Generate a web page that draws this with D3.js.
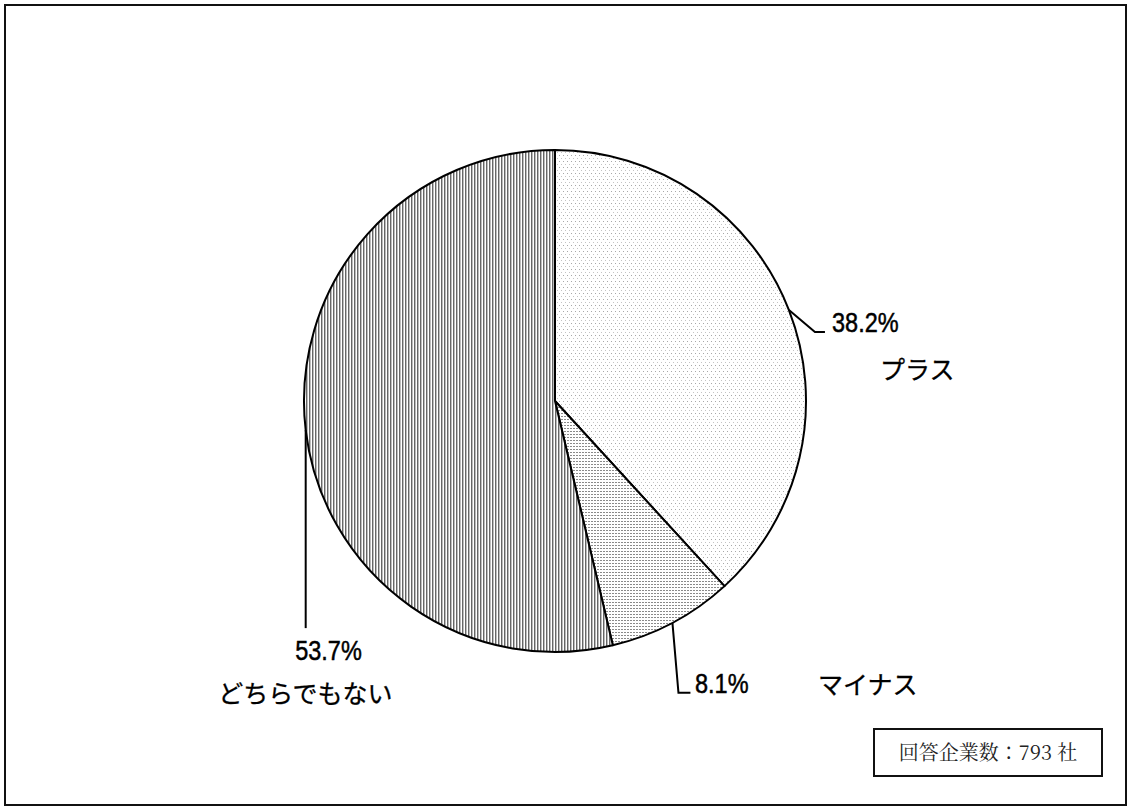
<!DOCTYPE html>
<html lang="ja">
<head>
<meta charset="utf-8">
<script src="https://cdn.jsdelivr.net/npm/d3@7"></script>
<style>
  html, body { margin: 0; padding: 0; background: #fff; }
  svg { display: block; }
</style>
</head>
<body>
<div id="chart"></div>
<script>
// Survey breakdown (share of responding companies, %)
const categories = ["プラス", "マイナス", "どちらでもない"];
const values = [38.2, 8.1, 53.7];
const valueLabels = ["38.2%", "8.1%", "53.7%"];
const respondentCount = 793;

const W = 1131, H = 808;
const cx = 555, cy = 401, R = 251;

const svg = d3.select("#chart").append("svg")
  .attr("width", W).attr("height", H);

// Fill patterns for the three slices
const defs = svg.append("defs");

// light scattered dots
const p0 = defs.append("pattern").attr("id", "fill-plus")
  .attr("patternUnits", "userSpaceOnUse").attr("width", 4).attr("height", 6);
p0.append("rect").attr("width", 4).attr("height", 6).attr("fill", "#fff");
p0.append("rect").attr("x", 0).attr("y", 0).attr("width", 1).attr("height", 1).attr("fill", "#a8a8a8");
p0.append("rect").attr("x", 2).attr("y", 3).attr("width", 1).attr("height", 1).attr("fill", "#c4c4c4");

// dense short dashes
const p1 = defs.append("pattern").attr("id", "fill-minus")
  .attr("patternUnits", "userSpaceOnUse").attr("width", 3).attr("height", 3);
p1.append("rect").attr("width", 3).attr("height", 3).attr("fill", "#fff");
p1.append("rect").attr("x", 0).attr("y", 0).attr("width", 2).attr("height", 1).attr("fill", "#8a8a8a");

// vertical stripes
const p2 = defs.append("pattern").attr("id", "fill-neutral")
  .attr("patternUnits", "userSpaceOnUse").attr("width", 3).attr("height", 3);
p2.append("rect").attr("width", 3).attr("height", 3).attr("fill", "#fff");
p2.append("rect").attr("x", 0).attr("width", 1).attr("height", 3).attr("fill", "#666");
p2.append("rect").attr("x", 1).attr("width", 1).attr("height", 3).attr("fill", "#bcbcbc");

const fills = d3.scaleOrdinal()
  .domain(categories)
  .range(["url(#fill-plus)", "url(#fill-minus)", "url(#fill-neutral)"]);

// Outer frame
svg.append("rect")
  .attr("x", 5).attr("y", 5).attr("width", 1121).attr("height", 800)
  .attr("fill", "none").attr("stroke", "#111").attr("stroke-width", 2);

const data = categories.map((c, i) => ({ name: c, value: values[i], label: valueLabels[i] }));

const pie = d3.pie().sort(null).value(d => d.value);
const arcs = pie(data);
const arc = d3.arc().innerRadius(0).outerRadius(R);

const g = svg.append("g").attr("transform", `translate(${cx},${cy})`);

g.selectAll("path.slice")
  .data(arcs)
  .join("path")
  .attr("class", "slice")
  .attr("d", arc)
  .attr("fill", d => fills(d.data.name))
  .attr("stroke", "#000")
  .attr("stroke-width", 2)
  .attr("stroke-linejoin", "round");

// point on the rim at the middle of a slice (chart coordinates)
function rimPoint(d) {
  const a = (d.startAngle + d.endAngle) / 2;
  return [cx + R * Math.sin(a), cy - R * Math.cos(a)];
}

// Leader-line and label placement per slice
const layout = [
  { elbow: [26, 22], run: 10, pct: [832, 332, "start"], name: [880, 379, "start"] },
  { elbow: [6, 70], run: 12, pct: [695, 693, "start"], name: [818, 694, "start"] },
  { elbow: [0, 198], run: 0, pct: [328.5, 660, "middle"], name: [305.5, 703, "middle"] }
];

const pctScale = 0.84;

arcs.forEach((d, i) => {
  const L = layout[i];
  const p = rimPoint(d);
  const e = [p[0] + L.elbow[0], p[1] + L.elbow[1]];
  const pts = [p, e];
  if (L.run) pts.push([e[0] + L.run, e[1]]);
  svg.append("path")
    .attr("d", d3.line()(pts))
    .attr("fill", "none")
    .attr("stroke", "#000")
    .attr("stroke-width", 2);

  svg.append("text")
    .attr("transform", `translate(${L.pct[0]},${L.pct[1]}) scale(${pctScale},1)`)
    .attr("text-anchor", L.pct[2])
    .attr("font-family", "'Liberation Sans', Arial, sans-serif")
    .attr("font-size", 28)
    .attr("fill", "#000")
    .attr("stroke", "#000")
    .attr("stroke-width", 0.5)
    .text(d.data.label);

  svg.append("text")
    .attr("x", L.name[0]).attr("y", L.name[1])
    .attr("text-anchor", L.name[2])
    .attr("font-family", "'Noto Sans CJK JP', sans-serif")
    .attr("font-size", 25)
    .attr("fill", "#000")
    .attr("stroke", "#000")
    .attr("stroke-width", 0.3)
    .text(d.data.name);
});

// Respondent count box
const box = { x: 874, y: 729, w: 228, h: 47 };
svg.append("rect")
  .attr("x", box.x).attr("y", box.y).attr("width", box.w).attr("height", box.h)
  .attr("fill", "#fff").attr("stroke", "#111").attr("stroke-width", 2);
svg.append("text")
  .attr("x", box.x + box.w / 2).attr("y", box.y + box.h / 2)
  .attr("dy", "0.36em")
  .attr("text-anchor", "middle")
  .attr("font-family", "'Noto Serif CJK JP', 'DejaVu Serif', 'Liberation Serif', serif")
  .attr("font-size", 20)
  .attr("fill", "#222")
  .text(`回答企業数：${respondentCount} 社`);
</script>
</body>
</html>
